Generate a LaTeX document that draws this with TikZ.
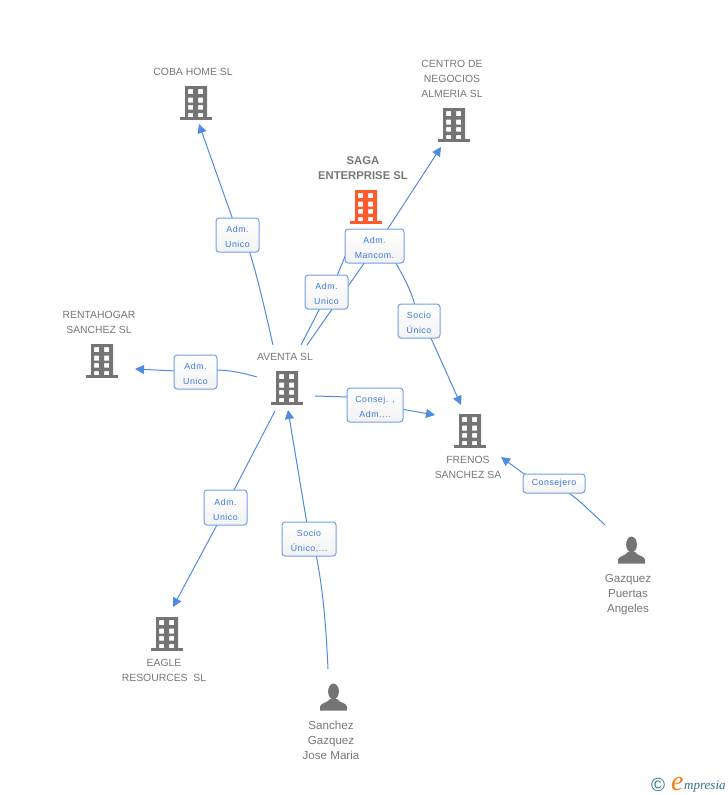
\documentclass[tikz,border=0pt]{standalone}
\usepackage{fontspec}
\setmainfont{Liberation Sans}
\newfontfamily\lblfont[LetterSpace=6]{Liberation Sans}
\newfontfamily\logofont{Liberation Serif}
\usetikzlibrary{arrows.meta}
\pgfdeclarelayer{back}
\pgfsetlayers{back,main}
\definecolor{grayicon}{HTML}{747474}
\definecolor{txtgray}{HTML}{777777}
\definecolor{orangeicon}{HTML}{FF5A2B}
\definecolor{linkblue}{HTML}{4F8BE0}
\definecolor{lblblue}{HTML}{3C7ADB}
\definecolor{boxedge}{HTML}{6F9FE8}
\definecolor{logoteal}{HTML}{2F7485}
\definecolor{logoorange}{HTML}{F47B16}
\tikzset{
  x=1pt,y=-1pt,
  anchornode/.style={inner sep=0pt,minimum size=0pt},
  name text/.style={anchor=north,align=center,inner sep=0pt,text=txtgray,font=\fontsize{10.4}{15}\selectfont},
  person text/.style={name text,font=\fontsize{11.6}{15}\selectfont},
  main text/.style={anchor=north,align=center,inner sep=0pt,text=txtgray,font=\fontsize{11.3}{15}\selectfont\bfseries},
  lbl/.style={draw=boxedge,line width=1pt,rounded corners=3pt,top color=white,bottom color=white!95!black,
    text=lblblue,align=center,inner sep=0pt,font=\fontsize{8.8}{15}\lblfont},
  link/.style={draw=linkblue,line width=1pt},
  arrowlink/.style={link,-{Triangle[length=9pt,width=9pt]}},
  building/.pic={
    \fill[pic actions] (-16,13.5) rectangle (16,16.5);
    \fill[pic actions,even odd rule] (-11,-17) rectangle (11,14)
      (-8,-14) rectangle (-3,-9) (2,-14) rectangle (7,-9)
      (-8,-5.5) rectangle (-3,-0.5) (2,-5.5) rectangle (7,-0.5)
      (-8,2) rectangle (-3,6.5) (2,2) rectangle (7,6.5)
      (-8,10) rectangle (-3,14) (2,10) rectangle (7,14.5);
  },
  person/.pic={
    \fill[pic actions] (0,-5.5) ellipse (5.4 and 8);
    \fill[pic actions] (-13.5,13.5) -- (-13.5,9.5) .. controls (-13,6) and (-6,6) .. (-3.5,2)
      -- (3.5,2) .. controls (6,6) and (13,6) .. (13.5,9.5) -- (13.5,13.5) -- cycle;
  },
}
\begin{document}
\begin{tikzpicture}
\useasboundingbox (0,0) rectangle (728,795);
\clip (0,0) rectangle (728,795);

% icons
\node[anchornode] (coba) at (196,103) {};
\node[anchornode] (centro) at (454,125) {};
\node[anchornode] (saga) at (366,207) {};
\node[anchornode] (renta) at (102,361) {};
\node[anchornode] (aventa) at (287,388) {};
\node[anchornode] (frenos) at (470,431) {};
\node[anchornode] (eagle) at (167,634) {};
\node[anchornode] (gazquez) at (631.5,550) {};
\node[anchornode] (sanchez) at (333.5,697) {};

% connector ends
\coordinate (a1) at (273,345); \coordinate (a2) at (301,345); \coordinate (a3) at (307,345);
\coordinate (a4) at (315,396); \coordinate (a5) at (257,377); \coordinate (a6) at (275,411);
\coordinate (a7) at (288,410);
\coordinate (cobaT) at (199,124); \coordinate (centroT) at (441,147);
\coordinate (sagaB) at (355,232); \coordinate (sagaC) at (383,240);
\coordinate (rentaT) at (135,369); \coordinate (frenosA) at (435,415);
\coordinate (frenosB) at (461,405); \coordinate (frenosC) at (501,457);
\coordinate (eagleT) at (173,607); \coordinate (gazS) at (605,525); \coordinate (sanS) at (328,669);

% labels
\node[lbl,minimum width=43pt,minimum height=34pt] (l1) at (237.5,235) {\strut\\[-15pt]Adm.\\Unico};
\node[lbl,minimum width=43pt,minimum height=34pt] (l2) at (326.5,292) {\strut\\[-15pt]Adm.\\Unico};
\node[lbl,minimum width=59pt,minimum height=34pt] (l3) at (374.5,246) {\strut\\[-15pt]Adm.\\Mancom.};
\node[lbl,minimum width=42pt,minimum height=34pt] (l4) at (419,321) {\strut\\[-15pt]Socio\\Único};
\node[lbl,minimum width=56pt,minimum height=34pt] (l5) at (375,405) {\strut\\[-15pt]Consej. ,\\Adm....};
\node[lbl,minimum width=43pt,minimum height=34pt] (l6) at (195.5,372) {\strut\\[-15pt]Adm.\\Unico};
\node[lbl,minimum width=43pt,minimum height=35pt] (l7) at (225.5,507.5) {\strut\\[-15pt]Adm.\\Unico};
\node[lbl,minimum width=54pt,minimum height=34pt] (l8) at (309,539) {\strut\\[-15pt]Socio\\Único,...};
\node[lbl,minimum width=62pt,minimum height=19pt] (l9) at (554,483.5) {Consejero};

% connectors (behind labels)
\begin{pgfonlayer}{back}
\draw[link] (a1) .. controls (265,310) and (257,275) .. (249,250);
\draw[arrowlink] (233,220) -- (cobaT);
\draw[link] (a2) -- (320,308);
\draw[link] (337,276) -- (sagaB);
\draw[link] (a3) -- (365,262);
\draw[arrowlink] (387,230) -- (centroT);
\draw[link] (sagaC) .. controls (398,268) and (410,285) .. (415,306);
\draw[arrowlink] (430,336) -- (frenosB);
\draw[link] (a4) -- (349,397);
\draw[arrowlink] (401,409) -- (frenosA);
\draw[link] (a5) .. controls (243,373) and (230,370) .. (216,370);
\draw[arrowlink] (176,371) -- (rentaT);
\draw[link] (a6) -- (233,492);
\draw[arrowlink] (218,523) -- (eagleT);
\draw[link] (sanS) .. controls (326,625) and (323,590) .. (316,554);
\draw[arrowlink] (307,524) -- (a7);
\draw[link] (gazS) .. controls (590,511) and (578,499) .. (566,491);
\draw[arrowlink] (527,476) -- (frenosC);
\end{pgfonlayer}

% pictograms
\pic[grayicon] at (coba) {building};
\pic[grayicon] at (centro) {building};
\pic[orangeicon] at (saga) {building};
\pic[grayicon] at (renta) {building};
\pic[grayicon] at (aventa) {building};
\pic[grayicon] at (frenos) {building};
\pic[grayicon] at (eagle) {building};
\pic[grayicon] at (gazquez) {person};
\pic[grayicon] at (sanchez) {person};

% names
\node[name text] (t1) at (193,68.5) {COBA HOME SL};
\node[name text] (t2) at (452,60.5) {CENTRO DE\\NEGOCIOS\\ALMERIA SL};
\node[main text] (t3) at (363,156.5) {SAGA\\ENTERPRISE SL};
\node[name text] (t4) at (99,311.5) {RENTAHOGAR\\SANCHEZ SL};
\node[name text] (t5) at (285,353.5) {AVENTA SL};
\node[name text] (t6) at (468,456.5) {FRENOS\\SANCHEZ SA};
\node[name text] (t7) at (164,659.5) {EAGLE\\RESOURCES\ \ SL};
\node[person text] (t8) at (628,574.5) {Gazquez\\Puertas\\Angeles};
\node[person text] (t9) at (331,720.5) {Sanchez\\Gazquez\\Jose Maria};

% logo
\node[anchor=center,inner sep=0pt,text=logoteal,font=\fontsize{19}{19}\selectfont] (c) at (658,784.5) {©};
\node[anchor=base west,inner sep=0pt,text=logoorange,font=\fontsize{28}{28}\logofont\itshape] (e) at (671,790) {e};
\node[anchor=base west,inner sep=0pt,text=logoteal,font=\fontsize{13}{13}\logofont\itshape] (m) at (684,789) {mpresia};
\end{tikzpicture}
\end{document}
